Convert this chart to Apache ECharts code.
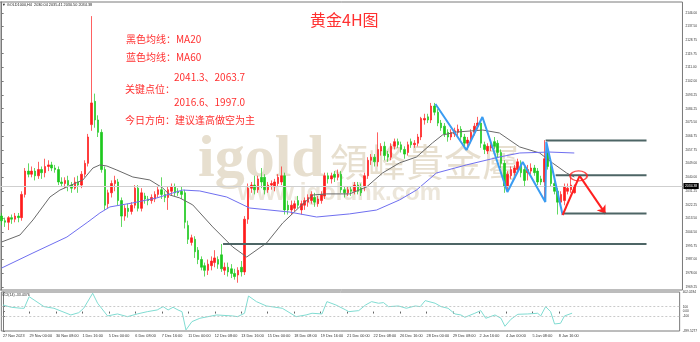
<!DOCTYPE html>
<html><head><meta charset="utf-8">
<script src="https://cdn.jsdelivr.net/npm/echarts@6/dist/echarts.min.js"></script>
<style>html,body{margin:0;padding:0;background:#fff}#c{width:700px;height:342px}</style>
</head><body><div id="c"></div>
<script>
// ---- data ----
const opens  = [2015,2012,2011,2014,2013,2015,2014,2029,2044,2042,2044,2041,2045,2043,2047,2048,2046,2045,2037,2036,2038,2035,2033,2037,2035,2042,2049,2074,2089,2077,2069,2045,2023,2030,2036,2037,2025,2015,2020,2018,2022,2033,2020,2028,2026,2025,2026,2029,2032,2029,2027,2031,2034,2031,2031,2030,2009,1998,2000,1993,1987,1983,1980,1983,1985,1987,1990,1980,1982,1981,1978,1977,1982,1979,2013,2033,2035,2032,2040,2040,2032,2035,2034,2036,2037,2041,2022,2019,2020,2025,2019,2022,2024,2025,2027,2023,2025,2028,2041,2039,2042,2040,2042,2032,2030,2032,2031,2035,2033,2034,2041,2051,2053,2050,2057,2060,2055,2053,2060,2063,2061,2058,2056,2063,2061,2062,2066,2077,2079,2077,2086,2082,2075,2073,2069,2066,2068,2069,2071,2066,2062,2064,2069,2073,2075,2061,2057,2059,2063,2062,2056,2049,2034,2041,2043,2045,2048,2045,2043,2044,2046,2044,2039,2037,2056,2047,2036,2031,2024,2025,2031,2032,2030.04];
const closes = [2012,2011,2014,2013,2015,2014,2029,2044,2042,2044,2041,2045,2043,2047,2048,2046,2045,2037,2036,2038,2035,2033,2037,2035,2042,2049,2066,2088,2077,2069,2045,2022,2030,2036,2038,2025,2015,2020,2018,2022,2033,2020,2030,2026,2025,2027,2029,2032,2029,2027,2032,2034,2030,2030,2029,2011,2000,2001,1992,1987,1982,1980,1984,1986,1988,1984,1981,1982,1979,1978,1976,1980,1979,2013,2033,2035,2032,2039,2037,2032,2035,2036,2037,2040,2041,2019,2019,2022,2023,2022,2023,2025,2027,2029,2024,2026,2029,2041,2039,2041,2040,2042,2032,2030,2032,2031,2035,2031,2030,2041,2051,2053,2050,2058,2060,2054,2053,2060,2063,2061,2058,2055,2061,2061,2062,2066,2078,2078,2077,2086,2082,2075,2072,2068,2066,2069,2070,2071,2066,2062,2064,2069,2073,2075,2062,2058,2060,2061,2060,2056,2049,2034,2042,2045,2046,2050,2043,2038,2045,2046,2043,2037,2037,2052,2047,2036,2031,2024,2029,2034,2033,2035,2034.38];
const lows   = [2009,2008,2006,2010,2011,2011,2012,2027,2040,2040,2038,2039,2039,2040,2044,2044,2043,2035,2034,2033,2031,2030,2032,2030,2033,2040,2047,2070,2072,2066,2043,2019,2020,2027,2031,2022,2008,2012,2014,2016,2020,2018,2018,2023,2022,2023,2024,2027,2026,2024,2019,2028,2028,2028,2026,2007,1997,1996,1988,1984,1980,1976,1977,1980,1982,1981,1979,1977,1976,1975,1974,1972,1976,1977,2010,2030,2029,2030,2033,2029,2030,2032,2031,2034,2035,2016,2016,2016,2018,2020,2016,2019,2021,2023,2021,2021,2023,2026,2036,2036,2037,2038,2030,2027,2028,2028,2029,2029,2028,2031,2039,2048,2047,2047,2054,2051,2050,2051,2058,2059,2056,2052,2054,2059,2059,2060,2064,2074,2075,2075,2080,2073,2070,2066,2063,2064,2066,2066,2064,2059,2058,2062,2067,2071,2059,2055,2055,2057,2058,2053,2046,2030,2031,2039,2041,2043,2040,2034,2038,2042,2041,2035,2035,2024,2045,2034,2029,2016,2021,2022,2029,2030,2029.50];
const highs  = [2017,2014,2015,2016,2017,2017,2031,2046,2049,2047,2046,2050,2047,2052,2051,2050,2048,2047,2040,2040,2041,2037,2040,2041,2044,2051,2068,2144,2094,2080,2071,2047,2032,2038,2041,2039,2027,2022,2023,2024,2035,2035,2033,2030,2028,2029,2031,2034,2040,2031,2034,2036,2036,2033,2034,2032,2012,2003,2002,1995,1989,1985,1987,1989,1993,1989,1997,1985,1985,1984,1981,1982,1986,2015,2036,2037,2041,2041,2046,2042,2037,2038,2039,2042,2047,2043,2025,2025,2025,2028,2025,2027,2029,2031,2030,2028,2031,2043,2043,2043,2044,2045,2044,2034,2034,2034,2037,2037,2036,2043,2053,2055,2055,2069,2062,2063,2057,2062,2065,2065,2063,2060,2063,2065,2064,2068,2079,2081,2081,2088,2088,2084,2077,2075,2071,2071,2072,2074,2073,2068,2066,2071,2075,2079,2077,2063,2062,2063,2066,2064,2058,2051,2044,2047,2048,2052,2051,2047,2048,2049,2048,2046,2041,2064,2059,2049,2038,2033,2031,2036,2036,2040,2035.41];

const ma20 = [[0,1998.3],[5.5,2002.8],[9.4,2012.5],[14.5,2027.3],[17.5,2031.8],[24.4,2038.3],[27.4,2046.0],[29.5,2048.0],[31.6,2047.3],[34.6,2044.7],[39.4,2040.2],[44.5,2038.3],[48.4,2033.1],[50.5,2028.6],[53.5,2026.7],[57.4,2022.2],[63.4,2008.0],[69.4,1995.1],[73.6,1988.6],[79.6,1997.7],[84.4,2010.5],[89.5,2020.9],[93.5,2028.6],[97.6,2029.3],[104.5,2029.3],[109.6,2033.8],[114.4,2042.8],[119.5,2049.3],[124.6,2053.1],[129.4,2062.2],[132.4,2067.3],[136.6,2069.2],[144.5,2070.5],[149.5,2068.6],[155.6,2059.6],[161.6,2055.7],[165.5,2049.2],[169.7,2042.8],[172,2040.2]];
const ma60 = [[0,1981.5],[9.4,1991.2],[19.6,2001.5],[25.9,2011.2],[29.5,2017.0],[32.5,2020.9],[39.4,2023.5],[46.6,2026.7],[51.4,2029.9],[54.4,2031.8],[59.5,2031.2],[67.6,2027.3],[74.5,2020.2],[86.5,2017.6],[94.6,2014.4],[104.5,2016.4],[112.6,2018.9],[119.5,2025.4],[124.6,2031.8],[130.6,2042.8],[139.6,2048.0],[149.5,2053.1],[155.6,2055.7],[164.6,2056.3],[172,2055.7]];
const cci = [[0,136],[2.5,88],[5.5,68],[6.4,68],[7.9,306],[9.4,238],[12.4,101],[15.4,68],[20.5,-70],[22.9,-23],[24.4,68],[27.1,376],[28.6,171],[31.6,-90],[34.6,-49],[37.6,-105],[40.6,-49],[43.6,-2],[46.6,33],[48.4,101],[49.9,33],[51.4,88],[52.9,33],[54.1,-2],[55.3,-378],[57.1,-207],[59.5,-138],[64.6,-70],[69.4,-90],[70.9,-105],[73.0,-35],[74.2,320],[76.6,204],[79.6,115],[84.4,68],[88.6,-105],[91.6,-70],[93.4,-35],[96.4,-49],[97.9,204],[100.6,136],[103.6,33],[104.5,-2],[107.5,19],[109.6,136],[111.4,204],[113.5,171],[115.0,184],[116.5,101],[119.5,115],[121.9,68],[124.6,115],[126.1,101],[127.6,225],[130.6,171],[132.4,101],[134.5,68],[136.6,-49],[138.4,-70],[139.6,-118],[142.6,-35],[144.4,19],[145.9,-138],[148.7,-70],[150.5,-138],[151.7,-302],[153.5,-159],[155.6,-56],[158.6,-49],[161.6,-35],[162.5,-90],[164.0,101],[165.5,-2],[166.7,-255],[168.5,-241],[169.7,-90],[172.0,-33.4]];

const xLabels = ['27 Nov 2023','29 Nov 00:00','30 Nov 08:00','1 Dec 16:00','5 Dec 00:00','6 Dec 08:00','7 Dec 16:00','11 Dec 00:00','12 Dec 08:00','13 Dec 16:00','15 Dec 00:00','18 Dec 08:00','19 Dec 16:00','21 Dec 00:00','22 Dec 08:00','26 Dec 16:00','28 Dec 00:00','29 Dec 08:00','2 Jan 16:00','4 Jan 00:00','5 Jan 08:00','8 Jan 16:00'];
const yTicks = [2146.00,2137.50,2128.75,2119.75,2111.00,2102.00,2093.25,2084.25,2075.50,2066.75,2057.75,2049.00,2040.00,2031.25,2022.25,2013.50,2004.50,1995.75,1987.00,1978.00,1969.25];
const cciTicks = [402.0284,100,0,-100,-399.5277];
const cciTickLabels = ['402.0284','100','0.00','-100','-399.5277'];

const keyPrices = [2063.7,2041.3,2016.6,1997.0];
const keyStarts = [163.4,166.4,168.5,66.5];
const keyEnd = 193.7;
const blueZigzag = [[130.3,2087.3],[139.6,2057.6],[144.4,2078.9],[151.9,2030.5],[156.5,2049.9],[163.3,2024.1],[163.6,2062.8],[168.5,2015.7]];
const redPath = [[168.5,2015.7],[173.6,2040.9],[181.4,2016.4]];
const circleMark = [173.3,2040.9];
const lastPrice = 2034.38;
const slotCount = 205;
// ---------------------------------------

const cats = Array.from({length: slotCount}, (_, i) => String(i));
const candles = opens.map((o, i) => [o, closes[i], lows[i], highs[i]]);
const labelShown = (idx) => idx % 8 === 0 && idx / 8 < xLabels.length;

const chart = echarts.init(document.getElementById('c'), null, {renderer: 'canvas'});
const RED = '#ff1c1c', GREEN = '#1ec81e';

const series = [
  {
    type: 'candlestick', xAxisIndex: 0, yAxisIndex: 0, data: candles, barWidth: 2, z: 3,
    itemStyle: {color: RED, color0: GREEN, borderColor: RED, borderColor0: GREEN, borderWidth: 0.7},
    markLine: {
      silent: true, symbol: ['none', 'none'], animation: false,
      data: [{yAxis: lastPrice}],
      lineStyle: {color: '#cfcfcf', width: 1, type: 'solid'},
      label: {position: 'end', distance: 1, formatter: lastPrice.toFixed(2), color: '#fff', backgroundColor: '#000', fontSize: 3.4, padding: [1.5, 1.5], fontFamily: 'Liberation Sans'}
    }
  },
  {type: 'line', xAxisIndex: 1, yAxisIndex: 0, data: ma20, showSymbol: false, lineStyle: {color: '#6a6a6a', width: 1}, z: 4},
  {type: 'line', xAxisIndex: 1, yAxisIndex: 0, data: ma60, showSymbol: false, lineStyle: {color: '#6f6ff0', width: 1}, z: 4}
];
keyPrices.forEach((p, k) => {
  series.push({type: 'line', xAxisIndex: 1, yAxisIndex: 0, data: [[keyStarts[k], p], [keyEnd, p]], showSymbol: false, lineStyle: {color: '#4d6565', width: 2}, z: 5});
});
series.push({type: 'line', xAxisIndex: 1, yAxisIndex: 0, data: blueZigzag, showSymbol: false, lineStyle: {color: '#3a9cf2', width: 2}, z: 6});
series.push({
  type: 'line', xAxisIndex: 1, yAxisIndex: 0, data: redPath.slice(0, 2), showSymbol: false, lineStyle: {color: '#ff2020', width: 2}, z: 7,
  markLine: {silent: true, animation: false, symbol: ['none', 'arrow'], symbolSize: 8,
    data: [[{coord: redPath[1]}, {coord: redPath[2]}]],
    lineStyle: {color: '#ff2020', width: 2, type: 'solid'}, label: {show: false}}
});
series.push({type: 'scatter', xAxisIndex: 1, yAxisIndex: 0, data: [circleMark], symbol: 'circle', symbolSize: [17, 10], z: 8,
  itemStyle: {color: 'rgba(0,0,0,0)', borderColor: '#ff2020', borderWidth: 1.5}});
series.push({
  type: 'line', xAxisIndex: 3, yAxisIndex: 1, data: cci, showSymbol: false, lineStyle: {color: '#80dcd2', width: 1}, z: 4,
  markLine: {silent: true, animation: false, symbol: ['none', 'none'], data: [{yAxis: 100}, {yAxis: -100}],
    lineStyle: {color: '#bdbdbd', width: 0.8, type: [2, 2]}, label: {show: false}}
});

const redText = '#ff3030';
const cjk = '"Noto Sans CJK SC"';
function txt(x, y, text, size, color, family, weight) {
  return {type: 'text', x: x, y: y, z: 1, silent: true,
    style: {text: text, fill: color, fontSize: size, fontFamily: family, fontWeight: weight || 'normal', verticalAlign: 'middle', align: 'left'}};
}

chart.setOption({
  animation: false,
  backgroundColor: '#fff',
  grid: [
    {left: 0, top: 2, width: 683, height: 288, show: true, borderColor: '#7a7a7a', borderWidth: 1},
    {left: 0, top: 292, width: 683, height: 39, show: true, borderColor: '#7a7a7a', borderWidth: 1}
  ],
  xAxis: [
    {type: 'category', gridIndex: 0, data: cats, boundaryGap: true, axisLine: {show: false}, axisTick: {show: false}, axisLabel: {show: false}, splitLine: {show: false}},
    {type: 'value', gridIndex: 0, min: -0.5, max: slotCount - 0.5, show: false},
    {type: 'category', gridIndex: 1, data: cats, boundaryGap: true, axisLine: {show: false},
      axisTick: {show: true, interval: (i) => labelShown(i), alignWithLabel: true, length: 2, lineStyle: {color: '#666'}},
      axisLabel: {interval: (i) => labelShown(i), formatter: (v) => xLabels[(+v) / 8], align: 'left', fontSize: 3.8, color: '#333', margin: 2.5, fontFamily: 'Liberation Sans'},
      splitLine: {show: false}},
    {type: 'value', gridIndex: 1, min: -0.5, max: slotCount - 0.5, show: false}
  ],
  yAxis: [
    {type: 'value', gridIndex: 0, position: 'right', min: 1967.315, max: 2153.1, splitLine: {show: false},
      axisLine: {show: true, lineStyle: {color: '#7a7a7a'}},
      axisTick: {show: true, customValues: yTicks, length: 2, lineStyle: {color: '#7a7a7a'}},
      axisLabel: {customValues: yTicks, formatter: (v) => v.toFixed(2), fontSize: 3.2, color: '#333', margin: 3, fontFamily: 'Liberation Sans'}},
    {type: 'value', gridIndex: 1, position: 'right', min: -399.5277, max: 402.0284, splitLine: {show: false},
      axisLine: {show: true, lineStyle: {color: '#7a7a7a'}},
      axisTick: {show: true, customValues: cciTicks, length: 2, lineStyle: {color: '#7a7a7a'}},
      axisLabel: {customValues: cciTicks, formatter: (v) => {
        let k = cciTicks.findIndex((t) => Math.abs(t - v) < 1e-6); return k >= 0 ? cciTickLabels[k] : '';
      }, fontSize: 3.2, color: '#333', margin: 3, fontFamily: 'Liberation Sans'}}
  ],
  graphic: [
    txt(198, 160, 'igold', 60, '#e7dfcf', '"Liberation Serif"', 'bold'),
    txt(330, 162, '領峰貴金屬', 38, '#e7dfcf', '"Noto Sans CJK TC"', 'normal'),
    txt(238, 193, 'www.igoldhk.com', 24, '#ece6da', '"Liberation Sans"', 'bold'),
    txt(2, 5, '\u25BC GOLD1000,H4  2030.04 2035.41 2030.50 2034.38', 3.8, '#222', '"Liberation Sans"'),
    txt(2, 295, 'CCI(14) -33.4376', 3.6, '#222', '"Liberation Sans"'),
    txt(310, 20, '黄金4H图', 16, redText, cjk),
    txt(126, 39, '黑色均线：MA20', 10, redText, cjk),
    txt(126, 57, '蓝色均线：MA60', 10, redText, cjk),
    txt(174, 77, '2041.3、2063.7', 10, redText, cjk),
    txt(125, 89, '关键点位：', 10, redText, cjk),
    txt(174, 102, '2016.6、1997.0', 10, redText, cjk),
    txt(125, 120, '今日方向：建议逢高做空为主', 10, redText, cjk)
  ],
  series: series
});
</script></body></html>
